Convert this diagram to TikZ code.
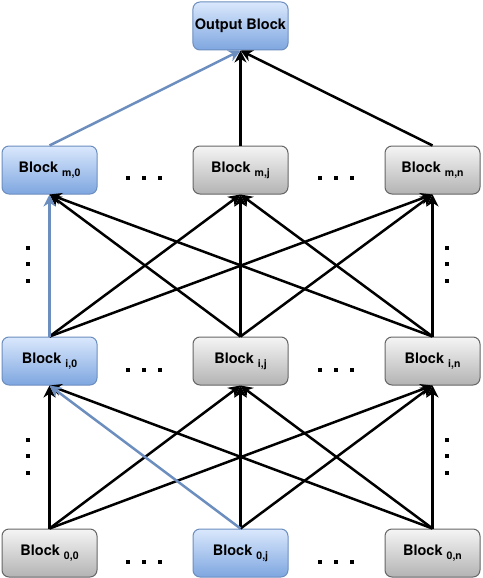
\documentclass[tikz,border=0pt]{standalone}
\usepackage{fontspec}
\setmainfont{TeX Gyre Heros}
\usetikzlibrary{arrows.meta}
\definecolor{bluefill}{HTML}{DAE8FC}
\definecolor{bluegrad}{HTML}{7EA6E0}
\definecolor{blueline}{HTML}{6C8EBF}
\definecolor{grayfill}{HTML}{F5F5F5}
\definecolor{graygrad}{HTML}{B3B3B3}
\definecolor{grayline}{HTML}{666666}
\newcommand{\blk}[1]{Block {\fontsize{10.5}{12}\selectfont\raisebox{-4pt}{#1}}}
\tikzset{
  block/.style={rounded corners=7pt, minimum width=95pt, minimum height=48pt,
    line width=1pt, font=\fontsize{14.5}{16}\selectfont\bfseries, inner sep=2pt},
  grayblock/.style={block, draw=grayline, top color=grayfill, bottom color=graygrad},
  blueblock/.style={block, draw=blueline, top color=bluefill, bottom color=bluegrad},
  edge/.style={line width=2.5pt, -{Stealth[length=12pt,width=12pt]}},
  blueedge/.style={edge, draw=blueline, -{Stealth[length=12pt,width=12pt,fill=blueline]}}
}
\begin{document}
\begin{tikzpicture}[x=1pt,y=-1pt]
    \useasboundingbox (0,0) rectangle (482,578);
    % Khối đầu ra
    \node[blueblock] (out) at (240.5,26) {Output Block};
    
    % Tầng m
    \node[blueblock] (bm0) at (49.5,170) {\blk{m,0}};
    \node[grayblock] (bmj) at (240.5,170) {\blk{m,j}};
    \node[grayblock] (bmn) at (432.5,170) {\blk{m,n}};
    
    % Tầng i
    \node[blueblock] (bi0) at (49.5,361) {\blk{i,0}};
    \node[grayblock] (bij) at (240.5,361) {\blk{i,j}};
    \node[grayblock] (bin) at (432.5,361) {\blk{i,n}};
    
    % Tầng 0
    \node[grayblock] (b00) at (49.5,553) {\blk{0,0}};
    \node[blueblock] (b0j) at (240.5,553) {\blk{0,j}};
    \node[grayblock] (b0n) at (432.5,553) {\blk{0,n}};
    
    % Nối tầng 0 lên tầng i
    \foreach \s/\t in {00/i0,00/ij,00/in,0j/ij,0j/in,0n/i0,0n/ij,0n/in}
    \draw[edge] (b\s.north) -- (b\t.south);
    
    % Nối tầng i lên tầng m
    \foreach \s/\t in {i0/mj,i0/mn,ij/m0,ij/mj,ij/mn,in/m0,in/mj,in/mn}
    \draw[edge] (b\s.north) -- (b\t.south);
    
    % Nối tầng m lên khối đầu ra
    \draw[edge] (bmj.north) -- (out.south);
    \draw[edge] (bmn.north) -- (out.south);
    
    % Đường màu xanh
    \draw[blueedge] (b0j.north) -- (bi0.south);
    \draw[blueedge] (bi0.north) -- (bm0.south);
    \draw[blueedge] (bm0.north) -- (out.south);
    
    % Dấu chấm ngang
    \foreach \y in {178,370,562}
    \foreach \x in {128,144,160,320,336,352}
    \fill (\x-2,\y-2) rectangle (\x+2,\y+2);
    
    % Dấu chấm dọc
    \foreach \x in {28,447}
    \foreach \y in {248,264,281,440,456,473}
    \fill (\x-2,\y-2) rectangle (\x+2,\y+2);
\end{tikzpicture}
\end{document}
